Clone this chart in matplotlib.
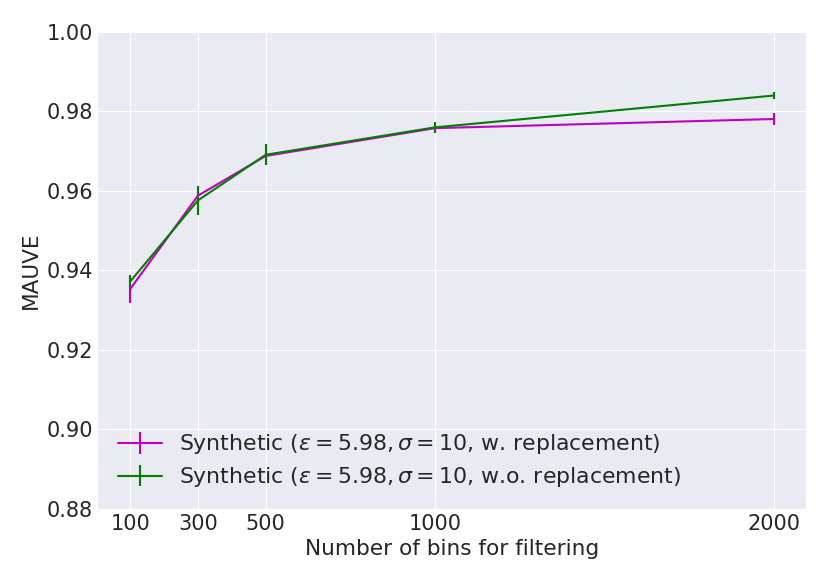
import numpy as np
import matplotlib
matplotlib.use("Agg")
import matplotlib.pyplot as plt

plt.style.use("seaborn-v0_8-darkgrid")
plt.rcParams['font.family'] = ['DejaVu Sans']

# number of bins used for filtering
bins = [100, 300, 500, 1000, 2000]

# MAUVE with replacement
mauve_w = [0.9353, 0.9588, 0.9688, 0.9758, 0.9781]
err_w = [0.0036, 0.0010, 0.0008, 0.0006, 0.0016]

# MAUVE without replacement
mauve_wo = [0.9372, 0.9576, 0.9691, 0.9760, 0.9840]
err_wo = [0.0013, 0.0036, 0.0026, 0.0013, 0.0008]

fig, ax = plt.subplots(figsize=(8.3, 5.81), dpi=100)
ax.errorbar(bins, mauve_w, yerr=err_w, color='m', linewidth=1.5,
            label=r"Synthetic ($\epsilon = 5.98, \sigma = 10$, w. replacement)")
ax.errorbar(bins, mauve_wo, yerr=err_wo, color='g', linewidth=1.5,
            label=r"Synthetic ($\epsilon = 5.98, \sigma = 10$, w.o. replacement)")

ax.set_xticks(bins)
ax.set_ylim(0.88, 1.0)
ax.set_yticks(np.arange(0.88, 1.001, 0.02))
ax.tick_params(axis='both', labelsize=15)
ax.set_xlabel('Number of bins for filtering', fontsize=15.6)
ax.set_ylabel('MAUVE', fontsize=15.6)
ax.legend(loc='lower left', fontsize=15.8, frameon=False, labelspacing=0.4)

fig.subplots_adjust(left=0.118, right=0.971, top=0.945, bottom=0.124)
fig.savefig('out.png', dpi=100)
